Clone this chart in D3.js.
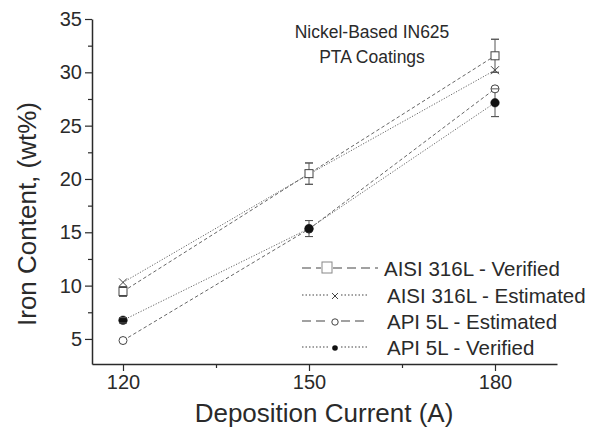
<!DOCTYPE html>
<html><head><meta charset="utf-8">
<script src="https://cdn.jsdelivr.net/npm/d3@7"></script>
<style>
html,body{margin:0;padding:0;background:#fff;}
svg{display:block;font-family:"Liberation Sans",Arial,sans-serif;}
</style></head>
<body>
<svg id="chart" width="605" height="439"></svg>
<script>
// ---- data ----
const currents = [120, 150, 180];
const xTicks = [120, 150, 180];
const yTicks = [5, 10, 15, 20, 25, 30, 35];
const aisiVerified = [9.45, 20.5, 31.55];
const aisiVerifiedErr = [0.45, 1.0, 1.55];
const aisiEstimated = [10.3, 20.45, 30.2];
const apiEstimated = [4.85, 15.3, 28.45];
const apiVerified = [6.75, 15.35, 27.15];
const apiVerifiedErr = [0.25, 0.75, 1.3];
const seriesNames = ["AISI 316L - Verified", "AISI 316L - Estimated", "API 5L - Estimated", "API 5L - Verified"];
const titleLines = ["Nickel-Based IN625", "PTA Coatings"];

const series = [
  {name: seriesNames[0], values: aisiVerified, err: aisiVerifiedErr, line: "dashed", marker: "square", z: 2},
  {name: seriesNames[1], values: aisiEstimated, err: null, line: "dotted", marker: "cross", z: 0},
  {name: seriesNames[2], values: apiEstimated, err: null, line: "dashed", marker: "openCircle", z: 1},
  {name: seriesNames[3], values: apiVerified, err: apiVerifiedErr, line: "dotted", marker: "filledCircle", z: 3}
];

const svg = d3.select("#chart");
const x = d3.scaleLinear().domain([115, 190]).range([92, 557]);
const y = d3.scaleLinear().domain([2.65, 35]).range([364, 19]);
const axisColor = "#2a2a2a";
const textColor = "#2a2a2a";
const lineColor = "#666";

// axes
const xAxis = svg.append("g").attr("transform", `translate(0,${y.range()[0]})`)
  .call(d3.axisBottom(x).tickValues(xTicks).tickSize(7).tickSizeOuter(0).tickPadding(4));
const yAxis = svg.append("g").attr("transform", `translate(${x.range()[0]},0)`)
  .call(d3.axisLeft(y).tickValues(yTicks).tickSize(7).tickSizeOuter(0).tickPadding(3));
// minor ticks
svg.append("g").attr("transform", `translate(0,${y.range()[0]})`)
  .call(d3.axisBottom(x).tickValues([135, 165]).tickSize(4).tickSizeOuter(0).tickFormat(""))
  .select(".domain").remove();
svg.append("g").attr("transform", `translate(${x.range()[0]},0)`)
  .call(d3.axisLeft(y).tickValues([7.5, 12.5, 17.5, 22.5, 27.5, 32.5]).tickSize(4).tickSizeOuter(0).tickFormat(""))
  .select(".domain").remove();
svg.selectAll(".domain").attr("stroke", axisColor).attr("stroke-width", 1.5);
svg.selectAll(".tick line").attr("stroke", axisColor).attr("stroke-width", 1.2);
xAxis.selectAll(".tick text").attr("font-size", 20).attr("fill", textColor);
yAxis.selectAll(".tick text").attr("font-size", 20).attr("fill", textColor);
xAxis.selectAll("text").attr("font-family", "Liberation Sans, Arial, sans-serif");
yAxis.selectAll("text").attr("font-family", "Liberation Sans, Arial, sans-serif");

// axis titles
svg.append("text").attr("x", 324).attr("y", 422).attr("text-anchor", "middle")
  .attr("font-size", 26).attr("fill", textColor).text("Deposition Current (A)");
svg.append("text").attr("transform", "translate(36,214) rotate(-90)").attr("text-anchor", "middle")
  .attr("font-size", 26).attr("fill", textColor).text("Iron Content, (wt%)");

// annotation
titleLines.forEach((t, i) => {
  svg.append("text").attr("x", 372).attr("y", 38 + i * 25).attr("text-anchor", "middle")
    .attr("font-size", 17.5).attr("fill", textColor).text(t);
});

const dashFor = s => s === "dashed" ? "3.5,2.5" : "1.2,1.6";

// lines
const lineGen = d3.line().x((d, i) => x(currents[i])).y(d => y(d));
series.forEach(s => {
  svg.append("path").datum(s.values).attr("d", lineGen)
    .attr("fill", "none").attr("stroke", lineColor).attr("stroke-width", 1)
    .attr("stroke-dasharray", dashFor(s.line));
});

// error bars
series.forEach(s => {
  if (!s.err) return;
  const g = svg.append("g").attr("stroke", "#555").attr("stroke-width", 1);
  s.values.forEach((v, i) => {
    const cx = x(currents[i]);
    const top = y(v + s.err[i]), bot = y(v - s.err[i]);
    g.append("line").attr("x1", cx).attr("x2", cx).attr("y1", top).attr("y2", bot);
    g.append("line").attr("x1", cx - 4).attr("x2", cx + 4).attr("y1", top).attr("y2", top);
    g.append("line").attr("x1", cx - 4).attr("x2", cx + 4).attr("y1", bot).attr("y2", bot);
  });
});

function drawMarker(g, type, cx, cy) {
  if (type === "square") {
    g.append("rect").attr("x", cx - 4).attr("y", cy - 4).attr("width", 8).attr("height", 8)
      .attr("fill", "#fff").attr("stroke", "#444").attr("stroke-width", 1);
  } else if (type === "cross") {
    const r = 4;
    g.append("path").attr("d", `M${cx - r},${cy - r}L${cx + r},${cy + r}M${cx - r},${cy + r}L${cx + r},${cy - r}`)
      .attr("stroke", "#444").attr("stroke-width", 1).attr("fill", "none");
  } else if (type === "openCircle") {
    g.append("circle").attr("cx", cx).attr("cy", cy).attr("r", 4)
      .attr("fill", "#fff").attr("stroke", "#444").attr("stroke-width", 1);
  } else {
    g.append("circle").attr("cx", cx).attr("cy", cy).attr("r", 4.3)
      .attr("fill", "#111").attr("stroke", "#111").attr("stroke-width", 0.5);
  }
}

// markers (ordered so that verified markers cover estimated ones)
series.slice().sort((a, b) => a.z - b.z).forEach(s => {
  const g = svg.append("g");
  s.values.forEach((v, i) => drawMarker(g, s.marker, x(currents[i]), y(v)));
});
// error caps drawn above open markers
series.forEach(s => {
  if (!s.err) return;
  const g = svg.append("g").attr("stroke", "#555").attr("stroke-width", 1);
  s.values.forEach((v, i) => {
    const cx = x(currents[i]);
    [y(v + s.err[i]), y(v - s.err[i])].forEach(yy =>
      g.append("line").attr("x1", cx - 4).attr("x2", cx + 4).attr("y1", yy).attr("y2", yy));
  });
});

// legend
const legendRows = [268, 295, 321, 347];
series.forEach((s, i) => {
  const g = svg.append("g");
  const yy = legendRows[i];
  const dash = s.line === "dashed" ? "9,5" : "1.5,2";
  const mx = s.marker === "square" ? 327 : 335;
  g.append("line").attr("x1", 302).attr("x2", mx - 6).attr("y1", yy).attr("y2", yy)
    .attr("stroke", "#444").attr("stroke-width", 1.2).attr("stroke-dasharray", dash);
  g.append("line").attr("x1", mx + 6).attr("x2", s.marker === "square" ? 378 : 368).attr("y1", yy).attr("y2", yy)
    .attr("stroke", "#444").attr("stroke-width", 1.2).attr("stroke-dasharray", dash);
  if (s.marker === "square") {
    g.append("rect").attr("x", mx - 5).attr("y", yy - 6).attr("width", 10).attr("height", 11)
      .attr("fill", "#fff").attr("stroke", "#888").attr("stroke-width", 1);
  } else if (s.marker === "cross") {
    g.append("path").attr("d", `M${mx - 3},${yy - 2}L${mx + 3},${yy + 4}M${mx - 3},${yy + 4}L${mx + 3},${yy - 2}`)
      .attr("stroke", "#444").attr("stroke-width", 1).attr("fill", "none");
  } else if (s.marker === "openCircle") {
    g.append("circle").attr("cx", mx).attr("cy", yy + 1).attr("r", 3.2)
      .attr("fill", "#fff").attr("stroke", "#444").attr("stroke-width", 1);
  } else {
    g.append("circle").attr("cx", mx).attr("cy", yy + 1).attr("r", 2.8).attr("fill", "#111");
  }
  g.append("text").attr("x", s.marker === "square" ? 384 : 387).attr("y", yy + 8)
    .attr("font-size", 20.5).attr("fill", textColor).text(s.name);
});
</script>
</body></html>
